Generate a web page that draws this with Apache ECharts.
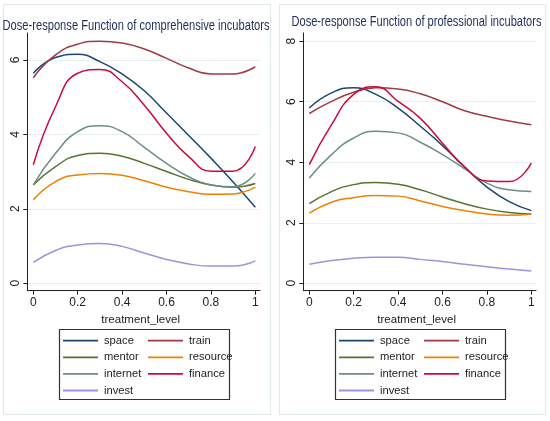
<!DOCTYPE html>
<html><head><meta charset="utf-8">
<script src="https://cdn.jsdelivr.net/npm/echarts@6/dist/echarts.min.js"></script>
<style>html,body{margin:0;padding:0;background:#fff}#c{width:550px;height:421px}</style>
</head><body><div id="c"></div>
<script>
const xVals = [0, 0.1, 0.2, 0.3, 0.4, 0.5, 0.6, 0.7, 0.8, 0.9, 1];
const xTicks = [0, 0.2, 0.4, 0.6, 0.8, 1];
const yTicksLeft = [0, 2, 4, 6];
const yTicksRight = [0, 2, 4, 6, 8];
const seriesNames = ['space', 'train', 'mentor', 'resource', 'internet', 'finance', 'invest'];
const titleLeft = 'Dose-response Function of comprehensive incubators';
const titleRight = 'Dose-response Function of professional incubators';
const xName = 'treatment_level';

// comprehensive incubators
const compSpace    = [5.64, 6.06, 6.15, 5.95, 5.62, 5.17, 4.57, 3.97, 3.36, 2.72, 2.04];
const compTrain    = [5.52, 6.13, 6.42, 6.50, 6.45, 6.29, 6.04, 5.78, 5.62, 5.62, 5.82];
const compMentor   = [2.64, 3.13, 3.43, 3.49, 3.41, 3.22, 3.00, 2.79, 2.64, 2.58, 2.68];
const compResource = [2.24, 2.73, 2.91, 2.95, 2.90, 2.75, 2.58, 2.46, 2.39, 2.40, 2.58];
const compInternet = [2.64, 3.49, 4.07, 4.23, 4.07, 3.65, 3.22, 2.86, 2.64, 2.59, 2.95];
const compFinance  = [3.18, 4.74, 5.64, 5.74, 5.41, 4.78, 4.03, 3.40, 3.01, 3.01, 3.67];
const compInvest   = [0.56, 0.88, 1.03, 1.07, 0.99, 0.81, 0.64, 0.52, 0.46, 0.46, 0.60];

// professional incubators
const profSpace    = [5.79, 6.29, 6.46, 6.24, 5.79, 5.19, 4.55, 3.84, 3.18, 2.70, 2.40];
const profTrain    = [5.61, 6.01, 6.31, 6.46, 6.42, 6.26, 6.00, 5.70, 5.52, 5.36, 5.24];
const profMentor   = [2.63, 3.03, 3.26, 3.33, 3.27, 3.09, 2.85, 2.63, 2.45, 2.34, 2.29];
const profResource = [2.32, 2.68, 2.83, 2.90, 2.88, 2.72, 2.54, 2.40, 2.29, 2.25, 2.29];
const profInternet = [3.48, 4.25, 4.80, 5.02, 4.97, 4.66, 4.25, 3.78, 3.31, 3.09, 3.03];
const profFinance  = [3.92, 5.24, 6.24, 6.49, 6.01, 5.45, 4.63, 3.84, 3.38, 3.36, 3.97];
const profInvest   = [0.63, 0.75, 0.83, 0.86, 0.86, 0.79, 0.72, 0.63, 0.55, 0.47, 0.41];

const colors = ['#1a476f', '#a03a44', '#55752f', '#ec8200', '#6e8e84', '#cc0a3c', '#9d93dc'];
const FONT = '"Liberation Sans", Arial, sans-serif';

const compData = [compSpace, compTrain, compMentor, compResource, compInternet, compFinance, compInvest];
const profData = [profSpace, profTrain, profMentor, profResource, profInternet, profFinance, profInvest];

function pairs(arr) { return xVals.map((x, i) => [x, arr[i]]); }

const series = [];
[compData, profData].forEach((set, gi) => {
  set.forEach((arr, si) => {
    series.push({
      name: seriesNames[si], type: 'line', xAxisIndex: gi, yAxisIndex: gi,
      data: pairs(arr), smooth: 0.5, symbol: 'none', showSymbol: false,
      lineStyle: { width: 1.5, color: colors[si] }, itemStyle: { color: colors[si] },
      emphasis: { disabled: true }, z: 3
    });
  });
});

function xAxis(gi) {
  return {
    type: 'value', gridIndex: gi, min: -0.027, max: 1.021,
    name: xName, nameLocation: 'middle', nameGap: 21,
    nameTextStyle: { fontFamily: FONT, fontSize: 11.5, color: '#222', padding: [0, 0, 0, -6] },
    axisLine: { show: true, onZero: false, lineStyle: { color: '#222', width: 1 } },
    axisTick: { show: true, length: 4, inside: false, customValues: xTicks, lineStyle: { color: '#222' } },
    axisLabel: { customValues: xTicks, fontFamily: FONT, fontSize: 12, color: '#222', margin: 6 },
    splitLine: { show: false }
  };
}
function yAxis(gi, min, max, ticks) {
  return {
    type: 'value', gridIndex: gi, min: min, max: max,
    axisLine: { show: true, onZero: false, lineStyle: { color: '#222', width: 1 } },
    axisTick: { show: true, length: 4, customValues: ticks, lineStyle: { color: '#222' } },
    axisLabel: { customValues: ticks, rotate: 90, fontFamily: FONT, fontSize: 12, color: '#222', margin: 6 },
    splitLine: { show: true, customValues: ticks, lineStyle: { color: '#e6eff2', width: 1 } }
  };
}

function legendCol(left, top, names) {
  return {
    orient: 'vertical', left: left, top: top, data: names, padding: 0,
    icon: 'rect', itemWidth: 35, itemHeight: 1.8, itemGap: 4.6,
    selectedMode: false,
    textStyle: { fontFamily: FONT, fontSize: 11.2, lineHeight: 12, color: '#222', padding: [0, 0, 0, 1] }
  };
}

// fit title text width to the reference's condensed title widths
const ctx = document.createElement('canvas').getContext('2d');
function scaleFor(text, size, target) {
  ctx.font = size + 'px "Liberation Sans", Arial, sans-serif';
  return target / ctx.measureText(text).width;
}
const TSIZE = 14;
const sL = scaleFor(titleLeft, TSIZE, 267);
const sR = scaleFor(titleRight, TSIZE, 250);

const chart = echarts.init(document.getElementById('c'), null, { renderer: 'canvas' });
chart.setOption({
  animation: false,
  backgroundColor: '#fff',
  grid: [
    { left: 27.3, top: 33, width: 232.7, height: 257.7 },
    { left: 303.3, top: 33, width: 232.7, height: 257.7 }
  ],
  xAxis: [xAxis(0), xAxis(1)],
  yAxis: [yAxis(0, -0.2, 6.72, yTicksLeft), yAxis(1, -0.245, 8.27, yTicksRight)],
  legend: [
    legendCol(63, 334.7, ['space', 'mentor', 'internet', 'invest']),
    legendCol(148, 334.7, ['train', 'resource', 'finance']),
    legendCol(339, 334.7, ['space', 'mentor', 'internet', 'invest']),
    legendCol(424, 334.7, ['train', 'resource', 'finance'])
  ],
  graphic: [
    { type: 'rect', shape: { x: 3.5, y: 4.5, width: 267, height: 410 }, style: { fill: 'none', stroke: '#dfe9ec', lineWidth: 1 }, silent: true, z: -1 },
    { type: 'rect', shape: { x: 279.5, y: 4.5, width: 266, height: 410 }, style: { fill: 'none', stroke: '#dfe9ec', lineWidth: 1 }, silent: true, z: -1 },
    { type: 'rect', shape: { x: 59.5, y: 329.5, width: 170, height: 70 }, style: { fill: 'none', stroke: '#333', lineWidth: 1.2 }, silent: true },
    { type: 'rect', shape: { x: 335.5, y: 329.5, width: 170, height: 70 }, style: { fill: 'none', stroke: '#333', lineWidth: 1.2 }, silent: true },
    { type: 'text', x: 136, y: 26, scaleX: sL, originX: 0, originY: 0,
      style: { text: titleLeft, fontFamily: FONT, fontSize: TSIZE, fill: '#1e2d5c', align: 'center', verticalAlign: 'middle' }, silent: true },
    { type: 'text', x: 416.5, y: 22.5, scaleX: sR, originX: 0, originY: 0,
      style: { text: titleRight, fontFamily: FONT, fontSize: TSIZE, fill: '#1e2d5c', align: 'center', verticalAlign: 'middle' }, silent: true }
  ],
  series: series
});
</script></body></html>
